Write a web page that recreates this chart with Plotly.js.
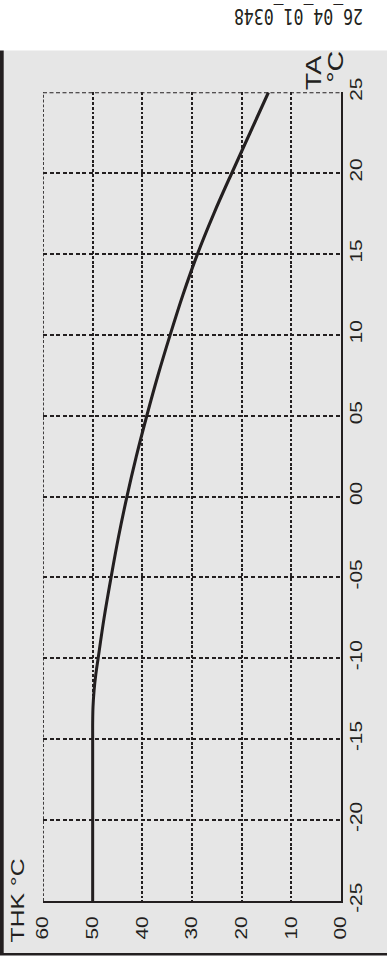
<!DOCTYPE html>
<html>
<head>
<meta charset="utf-8">
<script src="https://cdn.plot.ly/plotly-3.0.1.min.js"></script>
<style>
  html, body { margin: 0; padding: 0; background: #ffffff; width: 387px; height: 962px; }
  #page { position: relative; width: 387px; height: 962px; }
  #chart { position: absolute; left: 0; top: 0; width: 387px; transform-origin: 0 0; }
</style>
</head>
<body>
<div id="page"><div id="chart"></div></div>
<script>
// Heating curve: flow temperature THK against outdoor temperature TA
const taValues  = [-25, -20, -15, -14, -13, -12, -11, -10, -7.5, -5, -2.5, 0, 2.5, 5, 7.5, 10, 12.5, 15, 17.5, 20, 22.5, 25];
const thkValues = [50, 50, 50, 50, 49.93, 49.72, 49.37, 48.9, 47.7, 46.3, 44.8, 43.1, 41.2, 39.1, 36.85, 34.4, 31.8, 28.9, 25.6, 22.0, 18.3, 14.6];

const taTicks  = [-25, -20, -15, -10, -5, 0, 5, 10, 15, 20, 25];
const taLabels = ['-25', '-20', '-15', '-10', '-05', '00', '05', '10', '15', '20', '25'];
const thkTicks  = [0, 10, 20, 30, 40, 50, 60];
const thkLabels = ['00', '10', '20', '30', '40', '50', '60'];

const drawingCode = '26_04_01_0348';

// The figure is laid out on a 387 x 962 page; the plotly canvas is drawn
// shorter and stretched vertically by STRETCH.
const PAGE_W = 387, PAGE_H = 962, STRETCH = 1.3;
const H = PAGE_H / STRETCH;
const plotL = 43.3, plotR = 341.5, plotT = 92.7, plotB = 901;

function paperX(x) { return (x - plotL) / (plotR - plotL); }
function paperY(y) { return (plotB - y) / (plotB - plotT); }

const ink = '#231f20';
const panel = '#e6e6e6';
const font = 'Liberation Sans, Arial, Helvetica, sans-serif';
const vDash = '2.2px,1.5px';   // vertical grid lines (stretched by the page)
const hDash = '4px,2.5px';     // horizontal grid lines

const el = document.getElementById('chart');
el.style.height = H + 'px';
el.style.transform = 'scaleY(' + STRETCH + ')';

const trace = {
  type: 'scatter',
  mode: 'lines',
  x: thkValues,
  y: taValues,
  line: { color: ink, width: 3, shape: 'spline', smoothing: 1 },
  hoverinfo: 'skip'
};

const layout = {
  width: PAGE_W,
  height: H,
  margin: { l: plotL, r: PAGE_W - plotR, t: plotT / STRETCH, b: (PAGE_H - plotB) / STRETCH, pad: 0 },
  paper_bgcolor: '#ffffff',
  plot_bgcolor: panel,
  showlegend: false,
  xaxis: {
    range: [60, 0],
    tickvals: thkTicks,
    ticktext: thkLabels,
    tickangle: -90,
    ticks: '',
    ticklabelstandoff: 4,
    tickfont: { family: font, size: 16, color: ink },
    showgrid: true,
    gridcolor: ink,
    gridwidth: 1.7,
    griddash: vDash,
    showline: true,
    linecolor: ink,
    linewidth: 1.6,
    zeroline: false,
    fixedrange: true
  },
  yaxis: {
    side: 'right',
    range: [-25, 25],
    tickvals: taTicks,
    ticktext: taLabels,
    tickangle: -90,
    ticks: '',
    ticklabelstandoff: 0,
    tickfont: { family: font, size: 16, color: ink },
    showgrid: true,
    gridcolor: ink,
    gridwidth: 1.5,
    griddash: hDash,
    showline: true,
    linecolor: ink,
    linewidth: 2,
    zeroline: false,
    fixedrange: true
  },
  shapes: [
    // grey panel
    { type: 'rect', xref: 'paper', yref: 'paper', layer: 'below',
      x0: paperX(4), x1: paperX(PAGE_W + 2), y0: paperY(954), y1: paperY(51),
      fillcolor: panel, line: { width: 0 } },
    // dark left edge of the panel
    { type: 'rect', xref: 'paper', yref: 'paper', layer: 'below',
      x0: paperX(0), x1: paperX(4), y0: paperY(955), y1: paperY(51),
      fillcolor: ink, line: { width: 0 } },
    // dark bottom edge of the panel
    { type: 'rect', xref: 'paper', yref: 'paper', layer: 'below',
      x0: paperX(0), x1: paperX(PAGE_W + 2), y0: paperY(955.5), y1: paperY(953),
      fillcolor: ink, line: { width: 0 } },
    // dashed frame lines on the outer grid edges
    { type: 'line', xref: 'x', yref: 'paper', layer: 'below',
      x0: thkTicks[thkTicks.length - 1], x1: thkTicks[thkTicks.length - 1], y0: 0, y1: 1,
      line: { color: ink, width: 1.7, dash: vDash } },
    { type: 'line', xref: 'paper', yref: 'y', layer: 'below',
      x0: 0, x1: 1, y0: taTicks[taTicks.length - 1], y1: taTicks[taTicks.length - 1],
      line: { color: ink, width: 1.5, dash: hDash } }
  ],
  annotations: [
    { text: drawingCode, xref: 'paper', yref: 'paper', x: paperX(299), y: paperY(16),
      textangle: 180, showarrow: false, xanchor: 'center', yanchor: 'middle',
      font: { family: 'DejaVu Sans Mono, Liberation Mono, monospace', size: 16.5, color: ink } },
    { text: 'THK °C', xref: 'paper', yref: 'paper', x: paperX(18), y: paperY(900),
      textangle: -90, showarrow: false, xanchor: 'center', yanchor: 'middle',
      font: { family: font, size: 19, color: ink } },
    { text: 'TA', xref: 'paper', yref: 'paper', x: paperX(314), y: paperY(73),
      textangle: -90, showarrow: false, xanchor: 'center', yanchor: 'middle',
      font: { family: font, size: 22, color: ink } },
    { text: '°C', xref: 'paper', yref: 'paper', x: paperX(336), y: paperY(67),
      textangle: -90, showarrow: false, xanchor: 'center', yanchor: 'middle',
      font: { family: font, size: 22, color: ink } }
  ]
};

Plotly.newPlot(el, [trace], layout, { staticPlot: true, displayModeBar: false });
</script>
</body>
</html>
